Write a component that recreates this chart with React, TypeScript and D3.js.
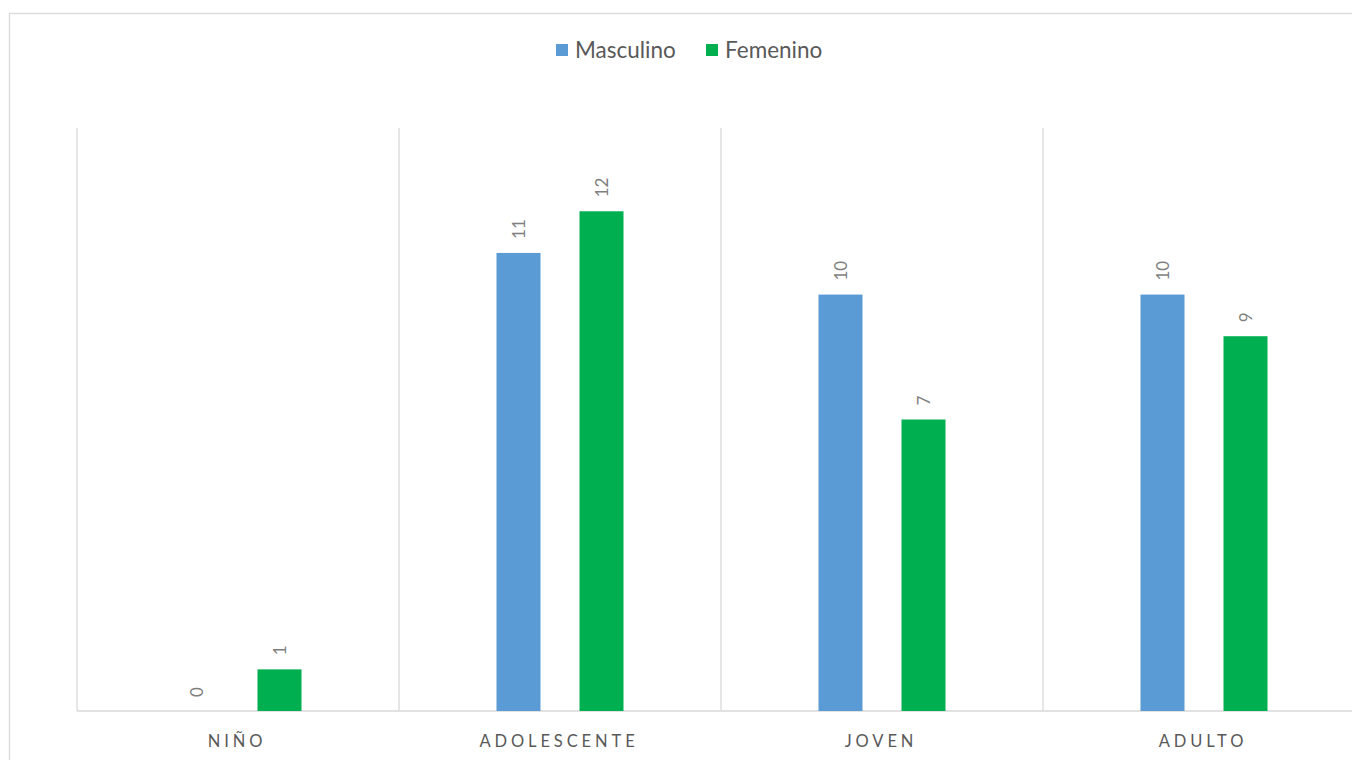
import React from "react";
import * as d3 from "d3";

const categories = ["NIÑO", "ADOLESCENTE", "JOVEN", "ADULTO"];
const seriesNames = ["Masculino", "Femenino"];
const masculino = [0, 11, 10, 10];
const femenino = [1, 12, 7, 9];
const colors = ["#5B9BD5", "#00B050"];

const W = 1352;
const H = 760;
const FONT = "Lato, 'Liberation Sans', sans-serif";

export default function App() {
  const left = 77;
  const right = 1365;
  const top = 128;
  const bottom = 711;
  const x = d3.scaleBand<string>().domain(categories).range([left, right]).padding(0);
  const y = d3.scaleLinear().domain([0, 14]).range([bottom, top]);
  const barW = 44;
  const gap = 39;
  const series = [masculino, femenino];

  return (
    <svg
      width={W}
      height={H}
      style={{ position: "fixed", left: 0, top: 0, background: "#fff" }}
      fontFamily={FONT}
    >
      <rect x={9.5} y={13.5} width={1400} height={800} fill="#fff" stroke="#d9d9d9" strokeWidth={1.3} />
      {/* legend */}
      {seriesNames.map((s, i) => {
        const lx = i === 0 ? 556 : 706;
        return (
          <g key={s}>
            <rect x={lx} y={44} width={12} height={12} fill={colors[i]} />
            <text x={lx + 19} y={58} fontSize={22.5} fill="#595959">
              {s}
            </text>
          </g>
        );
      })}
      {/* category separators */}
      {categories.map((c) => (
        <line
          key={c}
          x1={x(c)!}
          x2={x(c)!}
          y1={top}
          y2={bottom}
          stroke="#d9d9d9"
          strokeWidth={1.3}
        />
      ))}
      <line x1={left} x2={right} y1={bottom} y2={bottom} stroke="#d9d9d9" strokeWidth={1.5} />
      {/* bars */}
      {categories.map((c, ci) => {
        const cx = x(c)! + x.bandwidth() / 2;
        return series.map((vals, si) => {
          const bx = si === 0 ? cx - gap / 2 - barW : cx + gap / 2;
          const v = vals[ci];
          const yt = y(v);
          const lx = bx + barW / 2;
          const ly = yt - 14;
          return (
            <g key={c + si}>
              {v > 0 && (
                <rect x={bx} y={yt} width={barW} height={bottom - yt} fill={colors[si]} />
              )}
              <text
                transform={`translate(${lx + 6},${ly}) rotate(-90)`}
                fontSize={17}
                fill="#7f7f7f"
                textAnchor="start"
              >
                {v}
              </text>
            </g>
          );
        });
      })}
      {/* axis labels */}
      {categories.map((c) => (
        <text
          key={c}
          x={x(c)! + x.bandwidth() / 2 - 1}
          y={747}
          fontSize={16.5}
          fill="#595959"
          textAnchor="middle"
          letterSpacing={3.9}
        >
          {c}
        </text>
      ))}
    </svg>
  );
}
